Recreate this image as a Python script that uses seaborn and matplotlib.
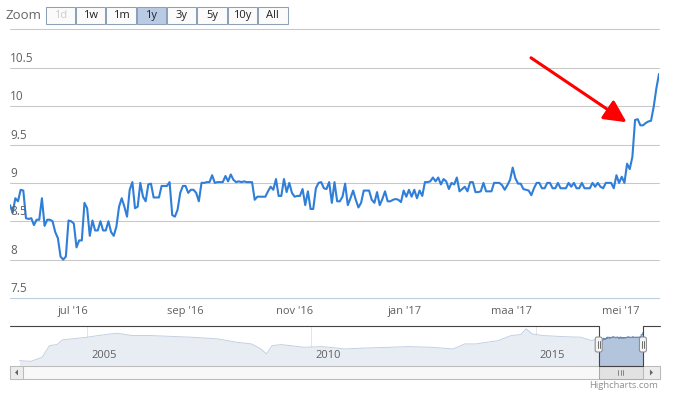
import matplotlib
matplotlib.use('Agg')
import matplotlib.pyplot as plt
import matplotlib.dates as mdates
import matplotlib.transforms as mtransforms
from matplotlib.patches import Rectangle, FancyBboxPatch, Polygon
from matplotlib.lines import Line2D
import numpy as np
import pandas as pd
import seaborn as sns

W, H = 679, 399

# --- data: koers laatste jaar (1y) ---
start_date = '2016-05-27'
end_date = '2017-05-22'
values = [
    8.71, 8.61, 8.80, 8.76, 8.91, 8.90, 8.54, 8.53, 8.54, 8.45,
    8.52, 8.52, 8.80, 8.44, 8.52, 8.52, 8.50, 8.36, 8.28, 8.04,
    8.00, 8.04, 8.51, 8.50, 8.47, 8.16, 8.25, 8.25, 8.74, 8.67,
    8.31, 8.51, 8.38, 8.38, 8.50, 8.38, 8.38, 8.50, 8.36, 8.31,
    8.43, 8.69, 8.80, 8.69, 8.56, 8.91, 9.01, 8.67, 8.69, 9.00,
    8.82, 8.76, 8.98, 8.99, 8.81, 8.81, 8.81, 8.96, 8.96, 8.96,
    9.01,
    8.58, 8.56, 8.65, 8.87, 8.96, 8.96, 8.87, 8.91, 8.91, 8.87,
    8.76, 9.00, 9.00, 9.01, 9.01, 9.10, 9.00, 9.01, 9.01, 9.01,
    9.09, 9.02, 9.11, 9.04, 9.01, 9.02, 9.01, 9.02, 9.01, 9.01,
    9.01, 8.78, 8.82, 8.82, 8.82, 8.82, 8.89, 8.95, 8.91, 9.05,
    8.83, 8.83, 9.05, 8.88, 9.00, 8.87, 8.82, 8.83, 8.83, 8.92,
    8.71, 8.89, 8.66, 8.66, 8.93, 9.00, 9.01, 8.93, 8.92,
    9.01, 8.74, 9.01, 8.76, 8.76, 8.82, 8.99, 8.71, 8.80, 8.90,
    8.78, 8.68, 8.74, 8.90, 8.90, 8.90, 8.78, 8.74, 8.88, 8.71,
    8.79, 8.89, 8.76, 8.76, 8.78, 8.79, 8.78, 8.75, 8.90, 8.82,
    8.91, 8.82, 8.91, 8.80, 8.90, 8.83, 9.01, 9.01, 9.02, 9.07,
    9.02, 9.07, 8.98, 9.05, 9.02, 8.92, 9.00, 8.98, 9.07, 8.89,
    8.92, 8.95, 8.89, 9.01, 9.01, 8.88, 8.88, 8.89, 9.00, 8.89,
    8.89,
    8.89, 9.00, 9.00, 9.00, 8.97, 8.91, 8.97, 9.04, 9.20, 9.06,
    8.99, 8.99, 8.92, 8.91, 8.90, 8.84, 8.93, 9.00, 9.00, 8.93,
    8.93, 9.00, 9.00, 8.93, 8.93, 9.00, 8.93, 8.93, 8.93, 9.00,
    8.95, 9.00, 8.93, 8.93, 9.00, 8.93, 8.93, 8.93, 9.00, 8.95,
    9.00, 8.95, 8.93, 9.00, 9.00, 9.00, 8.93, 9.10, 9.00, 9.08,
    9.00, 9.25, 9.18, 9.34, 9.82, 9.83, 9.75, 9.75, 9.78, 9.80,
    9.81, 9.99, 10.23, 10.42,
]

tick_dates = ['2016-07-01', '2016-09-01', '2016-11-01', '2017-01-01', '2017-03-01', '2017-05-01']
tick_labels = ["jul '16", "sep '16", "nov '16", "jan '17", "maa '17", "mei '17"]
y_ticks = [7.5, 8, 8.5, 9, 9.5, 10, 10.5, 11]
y_labels = ['7.5', '8', '8.5', '9', '9.5', '10', '10.5', '']

# --- navigator: volledige historie ---
nav_start = '2003-04-15'
nav_end = '2017-10-08'
nav_dates = ['2003-07-01', '2003-10-01', '2004-01-01', '2004-03-01', '2004-05-01',
             '2004-06-15', '2004-09-01', '2005-01-01', '2005-04-01', '2005-09-01',
             '2006-01-01', '2006-06-01', '2007-01-01', '2007-05-01', '2007-12-01',
             '2008-05-01', '2008-09-01', '2008-11-15', '2009-01-01', '2009-02-15',
             '2009-05-01', '2009-11-01', '2010-04-01', '2010-10-01', '2011-04-01',
             '2011-10-01', '2012-03-01', '2012-09-01', '2013-03-01', '2013-06-01',
             '2013-09-01', '2014-03-01', '2014-06-15', '2014-09-01', '2014-10-15',
             '2014-12-01', '2015-03-01', '2015-08-01', '2016-01-01', '2016-04-01']
nav_values = [2.0, 1.8, 3.0, 6.5, 6.8, 8.2, 8.5, 9.0, 9.5, 10.2,
              9.5, 9.5, 9.2, 9.0, 8.5, 7.5, 7.0, 5.5, 4.0, 6.5,
              6.8, 6.0, 6.2, 5.5, 5.8, 6.0, 6.2, 6.0, 5.5, 7.0,
              7.0, 8.0, 9.5, 9.8, 11.5, 10.0, 9.5, 9.2, 9.0, 8.0]
nav_years = ['2005-01-01', '2010-01-01', '2015-01-01']
nav_year_labels = ['2005', '2010', '2015']

zoom_buttons = ['1d', '1w', '1m', '1y', '3y', '5y', '10y', 'All']
selected_button = '1y'
disabled_button = '1d'

arrow_from = ('2017-03-12', 10.63)
arrow_to = ('2017-05-04', 9.79)

# --- stijl ---
sns.set_style('white')
plt.rcParams['font.family'] = ['Open Sans', 'DejaVu Sans']

LINE = '#2f7ed8'
GRID = '#c8c8c8'
AXIS = '#c0d0e0'
TXT = '#606060'

fig = plt.figure(figsize=(W / 100, H / 100), dpi=100)
ID = mtransforms.IdentityTransform()


def rect(x0, y0, x1, y1):
    return [x0 / W, 1 - y1 / H, (x1 - x0) / W, (y1 - y0) / H]


df = pd.DataFrame({'datum': pd.date_range(start_date, end_date, periods=len(values)),
                   'koers': values})

# ================= hoofdgrafiek =================
ax = fig.add_axes(rect(10, 29.4, 659, 298))
for v in y_ticks:
    ax.axhline(v, color=GRID, lw=0.75, zorder=0, clip_on=False)
sns.lineplot(data=df, x='datum', y='koers', ax=ax, color=LINE, lw=1.5, legend=False, zorder=3)
ax.set_xlim(pd.Timestamp(start_date), pd.Timestamp(end_date))
ax.set_ylim(7.5, 11)
for s in ['top', 'left', 'right']:
    ax.spines[s].set_visible(False)
ax.spines['bottom'].set_color(AXIS)
ax.spines['bottom'].set_linewidth(0.8)
ax.set_xticks(pd.to_datetime(tick_dates))
ax.set_xticklabels(tick_labels)
ax.tick_params(axis='x', colors=AXIS, length=4, width=0.8, pad=2, labelsize=8, labelcolor=TXT)
ax.set_yticks([])
ax.set_xlabel('')
ax.set_ylabel('')
off = mtransforms.ScaledTranslation(0, 3 / 100, fig.dpi_scale_trans)
ytr = mtransforms.blended_transform_factory(ax.transAxes, ax.transData) + off
for v, lab in zip(y_ticks, y_labels):
    ax.text(0, v, lab, transform=ytr, ha='left', va='bottom', fontsize=8.5, color=TXT)

ax.annotate('', xy=(mdates.date2num(pd.Timestamp(arrow_to[0])), arrow_to[1]),
            xytext=(mdates.date2num(pd.Timestamp(arrow_from[0])), arrow_from[1]),
            arrowprops=dict(arrowstyle='-|>,head_length=0.9,head_width=0.45', color='#ff0000',
                            lw=2.2, mutation_scale=15, shrinkA=0, shrinkB=0), zorder=5)

# ================= navigator =================
nav = fig.add_axes(rect(10, 325.5, 660, 365.7))
hist = pd.DataFrame({'datum': pd.to_datetime(nav_dates), 'koers': nav_values})
full = pd.concat([hist, df], ignore_index=True)
nav.set_xlim(pd.Timestamp(nav_start), pd.Timestamp(nav_end))
nav.set_ylim(0.5, 12.5)
nav.axis('off')
for d in nav_years:
    nav.axvline(pd.Timestamp(d), color='#e4e4e4', lw=0.75, zorder=0)
nav.fill_between(hist['datum'], hist['koers'], 0.5, color='#e8edf3', lw=0, zorder=1)
nav.fill_between([hist['datum'].iloc[-1], df['datum'].iloc[0]],
                 [hist['koers'].iloc[-1], df['koers'].iloc[0]], 0.5, color='#e8edf3', lw=0, zorder=1)
nav.fill_between(df['datum'], df['koers'], 0.5, color='#b3c5dd', lw=0, zorder=1)
sns.lineplot(data=full, x='datum', y='koers', ax=nav, color='#c3d0e2', lw=0.7, legend=False, zorder=2)
sns.lineplot(data=df, x='datum', y='koers', ax=nav, color='#6a8bb8', lw=0.7, legend=False, zorder=2)
nav.set_xlabel('')
nav.set_ylabel('')
noff = mtransforms.ScaledTranslation(4 / 100, 0, fig.dpi_scale_trans)
for d, lab in zip(nav_years, nav_year_labels):
    nav.text(pd.Timestamp(d), 0.25, lab, transform=nav.get_xaxis_transform() + noff,
             ha='left', va='center', fontsize=8, color=TXT)

fig.canvas.draw()
x_sel0 = nav.transData.transform((mdates.date2num(pd.Timestamp(start_date)), 0))[0]
x_sel1 = nav.transData.transform((mdates.date2num(pd.Timestamp(end_date)), 0))[0]
y_top, y_bot = 325.5, 365.7

# outline
ox = [10, x_sel0, x_sel0, x_sel1, x_sel1, 660]
oy = [y_top, y_top, y_bot, y_bot, y_top, y_top]
fig.add_artist(Line2D(ox, [H - y for y in oy], transform=ID, color='#444444', lw=0.8, zorder=10))

# handles
for xs in (x_sel0, x_sel1):
    fig.add_artist(FancyBboxPatch((xs - 3.5, H - 352), 7, 15, boxstyle='round,pad=0,rounding_size=2',
                                  transform=ID, fc='#f4f4f4', ec='#8c8c8c', lw=0.75, zorder=11))
    for dx in (-1, 1):
        fig.add_artist(Line2D([xs + dx, xs + dx], [H - 348, H - 341], transform=ID,
                              color='#555555', lw=0.6, zorder=12))

# scrollbar
sb0, sb1 = 366, 379
fig.add_artist(Rectangle((10, H - sb1), 650, sb1 - sb0, transform=ID, fc='#f8f8f8', ec='#bbbbbb', lw=0.75))
fig.add_artist(Rectangle((10, H - sb1), 13, sb1 - sb0, transform=ID, fc='#ececec', ec='#bbbbbb', lw=0.75))
fig.add_artist(Polygon([(18, H - 369.5), (18, H - 375.5), (15, H - 372.5)], closed=True, transform=ID,
                       fc='#666666', ec='none'))
fig.add_artist(Rectangle((x_sel0, H - sb1), x_sel1 - x_sel0, sb1 - sb0, transform=ID,
                         fc='#e2e2e2', ec='#aaaaaa', lw=0.75))
xc = (x_sel0 + x_sel1) / 2
for dx in (-2.5, 0, 2.5):
    fig.add_artist(Line2D([xc + dx, xc + dx], [H - 375, H - 370], transform=ID, color='#777777', lw=0.6))
fig.add_artist(Rectangle((x_sel1, H - sb1), 660 - x_sel1, sb1 - sb0, transform=ID,
                         fc='#ececec', ec='#bbbbbb', lw=0.75))
xm = (x_sel1 + 660) / 2
fig.add_artist(Polygon([(xm - 1.5, H - 369.5), (xm - 1.5, H - 375.5), (xm + 1.5, H - 372.5)], closed=True,
                       transform=ID, fc='#666666', ec='none'))

fig.text(658 / W, 1 - 386 / H, 'Highcharts.com', ha='right', va='center', fontsize=6.8, color='#909090')

# ================= zoom knoppen =================
fig.text(5 / W, 1 - 15.5 / H, 'Zoom', ha='left', va='center', fontsize=9.5, color='#666666')
edges = np.linspace(45, 288, len(zoom_buttons) + 1)
for lab, a, b in zip(zoom_buttons, edges[:-1], edges[1:]):
    fc = '#b9cbe4' if lab == selected_button else '#fbfbfb'
    tc = '#cccccc' if lab == disabled_button else '#222222'
    fig.add_artist(Rectangle((a + 0.5, H - 24), b - a - 1, 17, transform=ID, fc=fc, ec='#8ea0b8', lw=0.75))
    fig.text((a + b) / 2 / W, 1 - 15.5 / H, lab, ha='center', va='center', fontsize=8, color=tc)

fig.savefig('out.png', dpi=100)
